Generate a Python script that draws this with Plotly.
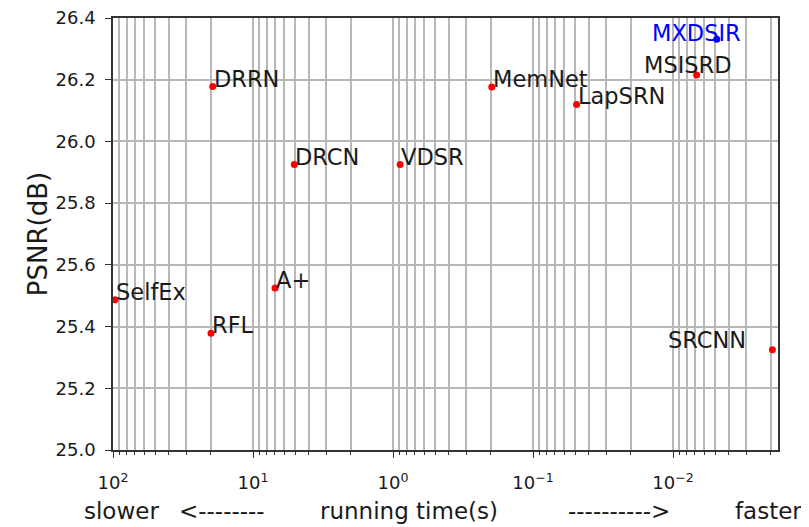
import numpy as np
import plotly.graph_objects as go

methods = ["SelfEx", "RFL", "A+", "DRRN", "DRCN", "VDSR", "MemNet", "LapSRN", "MSISRD", "SRCNN"]
times = [96.8, 19.95, 6.96, 19.4, 5.07, 0.89, 0.197, 0.0488, 0.00678, 0.00195]
psnr = [25.487, 25.378, 25.525, 26.178, 25.925, 25.925, 26.176, 26.12, 26.215, 25.325]

ours_name = "MXDSIR"
ours_time = 0.00487
ours_psnr = 26.331

y_ticks = [25.0, 25.2, 25.4, 25.6, 25.8, 26.0, 26.2, 26.4]
x_major = [100, 10, 1, 0.1, 0.01]
x_major_text = ["10<sup>2</sup>", "10<sup>1</sup>", "10<sup>0</sup>", "10<sup>−1</sup>", "10<sup>−2</sup>"]
caption_parts = ["slower", "<--------", "running time(s)", "---------->", "faster"]

FONT = "DejaVu Sans"
GRID = "#b8b8b8"
TXT = "#1a1a1a"
LBL = 22.5

minor_vals = [m * 10.0 ** e for e in range(-3, 2) for m in range(2, 10)]

fig = go.Figure()
fig.add_trace(go.Scatter(x=times, y=psnr, mode="markers",
                         marker=dict(color="red", size=7), showlegend=False))
fig.add_trace(go.Scatter(x=[ours_time], y=[ours_psnr], mode="markers",
                         marker=dict(color="blue", size=7), showlegend=False))

# label placement rules (anchor / shifts) per method
special = {
    "SRCNN": dict(xanchor="right", xshift=-24, yshift=-5),
    "MSISRD": dict(xanchor="center", xshift=-9, yshift=-5),
}
for name, t, p in zip(methods, times, psnr):
    kw = dict(xanchor="left", xshift=-1, yshift=-7)
    kw.update(special.get(name, {}))
    fig.add_annotation(x=np.log10(t), y=p, text=name, showarrow=False,
                       yanchor="bottom", font=dict(family=FONT, size=LBL, color=TXT), **kw)
fig.add_annotation(x=np.log10(ours_time), y=ours_psnr, text=ours_name, showarrow=False,
                   xanchor="center", xshift=-20, yanchor="bottom", yshift=-8.5,
                   font=dict(family=FONT, size=LBL, color="blue"))

# x-axis caption pieces (paper positions)
caption_x = [-0.047, 0.096, 0.309, 0.681, 0.933]
for txt, xp in zip(caption_parts, caption_x):
    fig.add_annotation(x=xp, y=-0.175, xref="paper", yref="paper", text=txt, showarrow=False,
                       xanchor="left", yanchor="bottom",
                       font=dict(family=FONT, size=23, color=TXT))

fig.update_xaxes(type="log", range=[2.0, -2.75],
                 tickmode="array", tickvals=x_major, ticktext=x_major_text,
                 showgrid=True, gridcolor=GRID, gridwidth=1.5,
                 ticks="outside", ticklen=6, tickwidth=1.3, tickcolor="#333",
                 ticklabelstandoff=10, ticklabeloverflow="allow",
                 minor=dict(tickmode="array", tickvals=minor_vals, showgrid=True,
                            gridcolor=GRID, gridwidth=1.5, ticks="outside", ticklen=3.5,
                            tickwidth=1, tickcolor="#333"),
                 showline=True, linecolor="#333", linewidth=1.5, mirror=True,
                 zeroline=False,
                 tickfont=dict(family=FONT, size=18, color=TXT))
fig.update_yaxes(range=[25.0, 26.4], tickmode="array", tickvals=y_ticks,
                 ticktext=[f"{v:.1f}" for v in y_ticks],
                 showgrid=True, gridcolor=GRID, gridwidth=1.5,
                 ticks="outside", ticklen=6, tickwidth=1.3, tickcolor="#333",
                 ticklabelstandoff=6, ticklabeloverflow="allow",
                 showline=True, linecolor="#333", linewidth=1.5, mirror=True,
                 zeroline=False,
                 title=dict(text="PSNR(dB)", font=dict(family=FONT, size=26, color=TXT), standoff=0),
                 tickfont=dict(family=FONT, size=18, color=TXT))

# page body adds an 8px offset, so the figure is sized to end at the window edge
fig.update_layout(width=801, height=519, plot_bgcolor="white", paper_bgcolor="white",
                  margin=dict(l=105, r=31, t=10, b=77, autoexpand=False), showlegend=False)

fig.write_html("out.html")
